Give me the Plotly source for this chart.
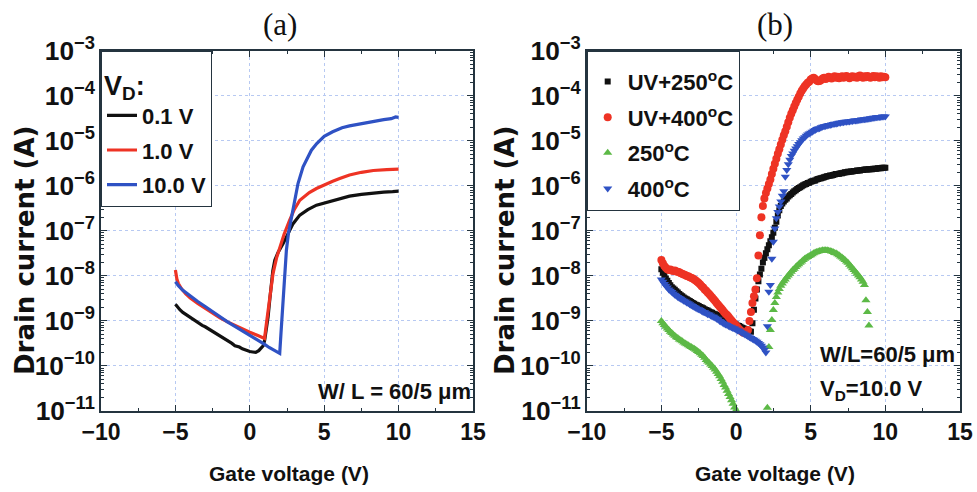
import plotly.graph_objects as go

# ---------------- Panel (a): transfer curves at three drain voltages ----------------
# gate voltage (V) and log10 of drain current (A)
VG_A_01 = [-5.0, -4.9, -4.7, -4.5, -4.2, -4.0, -3.7, -3.5, -3.2, -3.0, -2.7, -2.5, -2.2, -2.0,
           -1.7, -1.5, -1.2, -1.0, -0.7, -0.5, -0.2, 0.0, 0.2, 0.4, 0.6, 0.8, 0.9, 1.0, 1.1,
           1.23, 1.35, 1.45, 1.55, 1.68, 1.9, 2.24, 2.6, 2.91, 3.36, 3.9, 4.48, 5.0, 5.5, 6.04,
           6.7, 7.5, 8.2, 9.0, 9.6, 10.0]
LOG_I_A_01 = [-8.63, -8.68, -8.75, -8.81, -8.88, -8.92, -8.99, -9.04, -9.10, -9.13, -9.19, -9.23,
              -9.28, -9.32, -9.38, -9.44, -9.50, -9.55, -9.58, -9.62, -9.66, -9.68, -9.69, -9.70,
              -9.66, -9.60, -9.55, -9.43, -9.20, -8.91, -8.50, -8.17, -7.88, -7.65, -7.48, -7.28,
              -7.04, -6.84, -6.65, -6.53, -6.43, -6.38, -6.33, -6.28, -6.23, -6.19, -6.16, -6.14,
              -6.13, -6.12]

VG_A_10 = [-5.0, -4.95, -4.9, -4.8, -4.6, -4.3, -4.0, -3.5, -3.0, -2.5, -2.0, -1.5, -1.0, -0.5,
           0.0, 0.5, 0.99, 1.1, 1.2, 1.34, 1.45, 1.56, 1.8, 2.01, 2.3, 2.68, 3.0, 3.36, 4.0,
           4.48, 5.0, 5.57, 6.04, 6.7, 7.5, 8.3, 9.2, 10.0]
LOG_I_A_10 = [-7.87, -7.98, -8.07, -8.17, -8.28, -8.40, -8.49, -8.61, -8.72, -8.83, -8.93, -9.02,
              -9.10, -9.18, -9.25, -9.32, -9.39, -9.10, -8.85, -8.54, -8.22, -7.95, -7.60, -7.36,
              -7.08, -6.76, -6.52, -6.32, -6.15, -6.06, -5.98, -5.90, -5.84, -5.76, -5.70, -5.66,
              -5.64, -5.63]

VG_A_100 = [-5.0, -4.8, -4.5, -4.0, -3.5, -3.0, -2.5, -2.0, -1.5, -1.0, -0.5, 0.0, 0.5, 0.8, 1.0,
            1.3, 1.6, 1.8, 2.01, 2.1, 2.24, 2.35, 2.46, 2.6, 2.8, 3.0, 3.24, 3.58, 4.14, 4.5,
            5.0, 5.57, 6.2, 6.7, 7.3, 7.83, 8.5, 9.0, 9.5, 9.8, 10.0]
LOG_I_A_100 = [-8.13, -8.22, -8.32, -8.45, -8.57, -8.68, -8.80, -8.92, -9.02, -9.12, -9.22, -9.31,
               -9.40, -9.47, -9.52, -9.59, -9.65, -9.69, -9.72, -9.25, -8.54, -7.95, -7.43, -7.05,
               -6.69, -6.30, -5.95, -5.58, -5.21, -5.06, -4.90, -4.80, -4.71, -4.67, -4.63, -4.60,
               -4.56, -4.53, -4.51, -4.47, -4.48]

# ---------------- Panel (b): transfer curves after different treatments ----------------
# gate sweep -5 V ... 10 V in 0.1 V steps; log10 of drain current (A), one row per volt
VG_B = [round(-5.0 + 0.1 * i, 1) for i in range(151)]

LOG_I_UV400 = [
    -7.65, -7.72, -7.78, -7.82, -7.85, -7.87, -7.86, -7.88, -7.89, -7.88,
    -7.90, -7.91, -7.92, -7.94, -7.95, -7.97, -7.98, -8.00, -8.01, -8.03,
    -8.04, -8.06, -8.08, -8.10, -8.13, -8.16, -8.19, -8.23, -8.26, -8.30,
    -8.33, -8.37, -8.40, -8.44, -8.48, -8.52, -8.56, -8.60, -8.64, -8.68,
    -8.72, -8.76, -8.80, -8.84, -8.87, -8.91, -8.95, -8.99, -9.03, -9.07,
    -9.10, -9.14, -9.18, -9.21, -9.24, -9.26, -9.27, -9.28, -9.20, -9.00,
    -8.80, -8.60, -8.45, -8.30, -8.05, -7.55, -7.10, -6.70, -6.45, -6.28,
    -6.16, -6.06, -5.96, -5.86, -5.74, -5.62, -5.51, -5.40, -5.29, -5.19,
    -5.08, -4.98, -4.88, -4.79, -4.69, -4.59, -4.49, -4.40, -4.32, -4.24,
    -4.16, -4.09, -4.02, -3.95, -3.89, -3.84, -3.79, -3.75, -3.71, -3.69,
    -3.64, -3.62, -3.60, -3.63, -3.66, -3.68, -3.67, -3.65, -3.62, -3.60,
    -3.63, -3.61, -3.58, -3.60, -3.62, -3.59, -3.57, -3.60, -3.58, -3.61,
    -3.59, -3.57, -3.60, -3.58, -3.56, -3.59, -3.61, -3.58, -3.57, -3.59,
    -3.58, -3.60, -3.57, -3.55, -3.58, -3.60, -3.57, -3.59, -3.56, -3.58,
    -3.60, -3.58, -3.56, -3.59, -3.57, -3.58, -3.60, -3.57, -3.59, -3.58,
    -3.59]

LOG_I_UV250 = [
    -7.85, -7.93, -8.00, -8.06, -8.11, -8.16, -8.21, -8.25, -8.28, -8.31,
    -8.34, -8.37, -8.40, -8.43, -8.45, -8.48, -8.50, -8.52, -8.54, -8.56,
    -8.58, -8.60, -8.62, -8.64, -8.65, -8.67, -8.69, -8.70, -8.72, -8.74,
    -8.76, -8.77, -8.79, -8.81, -8.82, -8.84, -8.85, -8.87, -8.89, -8.90,
    -8.92, -8.93, -8.95, -8.97, -8.98, -9.00, -9.01, -9.03, -9.05, -9.06,
    -9.08, -9.10, -9.11, -9.13, -9.15, -9.16, -9.18, -9.20, -9.21, -9.23,
    -9.24, -9.05, -8.75, -8.50, -8.30, -8.12, -7.97, -7.84, -7.70, -7.60,
    -7.50, -7.41, -7.32, -7.23, -7.14, -7.04, -6.93, -6.80, -6.66, -6.54,
    -6.45, -6.39, -6.35, -6.31, -6.28, -6.24, -6.21, -6.18, -6.15, -6.12,
    -6.10, -6.07, -6.05, -6.03, -6.01, -5.99, -5.97, -5.96, -5.94, -5.93,
    -5.91, -5.90, -5.89, -5.88, -5.86, -5.85, -5.84, -5.83, -5.82, -5.81,
    -5.80, -5.79, -5.78, -5.77, -5.77, -5.76, -5.75, -5.74, -5.74, -5.73,
    -5.72, -5.72, -5.71, -5.70, -5.70, -5.69, -5.69, -5.68, -5.68, -5.67,
    -5.67, -5.66, -5.66, -5.66, -5.65, -5.65, -5.64, -5.64, -5.64, -5.63,
    -5.63, -5.63, -5.62, -5.62, -5.62, -5.61, -5.61, -5.61, -5.60, -5.60,
    -5.60]

LOG_I_400 = [
    -8.08, -8.13, -8.18, -8.22, -8.26, -8.30, -8.33, -8.36, -8.39, -8.42,
    -8.44, -8.47, -8.49, -8.51, -8.53, -8.55, -8.57, -8.59, -8.61, -8.63,
    -8.65, -8.67, -8.69, -8.71, -8.73, -8.74, -8.76, -8.78, -8.80, -8.81,
    -8.83, -8.85, -8.86, -8.88, -8.90, -8.91, -8.93, -8.95, -8.97, -9.00,
    -9.02, -9.04, -9.06, -9.08, -9.09, -9.11, -9.13, -9.14, -9.16, -9.17,
    -9.19, -9.21, -9.22, -9.24, -9.26, -9.28, -9.30, -9.32, -9.34, -9.36,
    -9.38, -9.40, -9.42, -9.44, -9.46, -9.49, -9.52, -9.55, -9.59, -9.64,
    -9.70, -9.12, -8.35, -8.20, -7.62, -7.24, -6.95, -6.72, -6.58, -6.46,
    -6.35, -6.22, -6.12, -5.80, -5.65, -5.52, -5.42, -5.34, -5.28, -5.22,
    -5.17, -5.12, -5.07, -5.03, -4.99, -4.95, -4.92, -4.89, -4.86, -4.84,
    -4.82, -4.80, -4.78, -4.76, -4.74, -4.73, -4.72, -4.70, -4.69, -4.68,
    -4.67, -4.66, -4.65, -4.65, -4.64, -4.63, -4.62, -4.62, -4.61, -4.60,
    -4.60, -4.59, -4.59, -4.58, -4.58, -4.57, -4.57, -4.56, -4.56, -4.55,
    -4.55, -4.55, -4.54, -4.54, -4.53, -4.53, -4.52, -4.52, -4.51, -4.51,
    -4.50, -4.50, -4.49, -4.49, -4.48, -4.48, -4.47, -4.47, -4.46, -4.46,
    -4.46]

# below 1e-11 A the 250 C device leaves the plotted range (None = not drawn)
LOG_I_250 = [
    -9.00, -9.05, -9.09, -9.13, -9.17, -9.20, -9.24, -9.27, -9.30, -9.33,
    -9.36, -9.38, -9.41, -9.43, -9.45, -9.48, -9.50, -9.52, -9.54, -9.56,
    -9.58, -9.60, -9.62, -9.64, -9.67, -9.69, -9.72, -9.75, -9.78, -9.82,
    -9.87, -9.90, -9.93, -9.97, -10.00, -10.04, -10.08, -10.13, -10.18, -10.23,
    -10.29, -10.35, -10.42, -10.48, -10.55, -10.62, -10.69, -10.76, -10.84, -10.92,
    -10.98, None, None, None, None, None, None, None, None, None,
    None, None, None, None, None, None, None, None, None, None,
    None, -10.93, -9.58, -9.20, -8.98, -8.76, -8.60, -8.47, -8.37, -8.29,
    -8.22, -8.17, -8.12, -8.08, -8.03, -7.99, -7.95, -7.91, -7.87, -7.84,
    -7.80, -7.77, -7.74, -7.71, -7.68, -7.65, -7.62, -7.60, -7.58, -7.56,
    -7.54, -7.52, -7.50, -7.48, -7.47, -7.46, -7.45, -7.44, -7.43, -7.43,
    -7.43, -7.43, -7.44, -7.45, -7.46, -7.47, -7.49, -7.50, -7.52, -7.54,
    -7.57, -7.59, -7.62, -7.65, -7.68, -7.71, -7.75, -7.79, -7.83, -7.87,
    -7.91, -7.95, -7.99, -8.03, -8.08, -8.13, -8.20, -8.54, -8.80, -9.10,
    None, None, None, None, None, None, None, None, None, None,
    None]

LEGEND_A = ["0.1 V", "1.0 V", "10.0 V"]
LEGEND_B = ["UV+250<sup>o</sup>C", "UV+400<sup>o</sup>C", "250<sup>o</sup>C", "400<sup>o</sup>C"]


def to_amp(logs):
    return [None if v is None else 10 ** v for v in logs]


SANS = "Liberation Sans"
INK = "#111111"
BLACK, RED, GREEN, BLUE = "#111111", "#ee3324", "#5cb946", "#2f52c4"
FRAME = "#24343f"
GRID = "#b7c9f2"

fig = go.Figure()

# panel (a) lines
for name, xs, ys, col in [
    (LEGEND_A[0], VG_A_01, LOG_I_A_01, BLACK),
    (LEGEND_A[1], VG_A_10, LOG_I_A_10, RED),
    (LEGEND_A[2], VG_A_100, LOG_I_A_100, BLUE),
]:
    fig.add_trace(go.Scatter(
        x=xs, y=to_amp(ys), mode="lines", name=name, legendgroup=name,
        line=dict(color=col, width=3.2), xaxis="x", yaxis="y", legend="legend",
    ))

# panel (b) markers
for name, ys, col, sym, size in [
    (LEGEND_B[0], LOG_I_UV250, BLACK, "square", 6),
    (LEGEND_B[1], LOG_I_UV400, RED, "circle", 8),
    (LEGEND_B[2], LOG_I_250, GREEN, "triangle-up", 8),
    (LEGEND_B[3], LOG_I_400, BLUE, "triangle-down", 8),
]:
    fig.add_trace(go.Scatter(
        x=VG_B, y=to_amp(ys), mode="markers", name=name, legendgroup=name,
        marker=dict(color=col, symbol=sym, size=size, line=dict(width=0)),
        xaxis="x2", yaxis="y2", legend="legend2",
    ))

Y_TOP, Y_BOT = 1 - 50.7 / 492, 1 - 411 / 492

xcommon = dict(
    range=[-10, 15], tickmode="linear", tick0=-10, dtick=5,
    ticks="inside", ticklen=6, tickwidth=1.3, tickcolor=FRAME,
    minor=dict(ticks="inside", ticklen=3, dtick=2.5, tickcolor=FRAME, showgrid=False),
    showgrid=True, gridcolor=GRID, griddash="dot", gridwidth=1,
    showline=True, linecolor=FRAME, linewidth=1.6, mirror="allticks",
    zeroline=False, automargin=False,
    tickfont=dict(family=SANS, size=23, color=INK, weight="bold"),
)
ycommon = dict(
    type="log", range=[-11, -3], dtick=1, exponentformat="power",
    ticks="inside", ticklen=6, tickwidth=1.3, tickcolor=FRAME,
    minor=dict(ticks="inside", ticklen=3, tickcolor=FRAME, showgrid=False),
    showgrid=True, gridcolor=GRID, griddash="dot", gridwidth=1,
    showline=True, linecolor=FRAME, linewidth=1.6, mirror="allticks",
    zeroline=False, automargin=False,
    tickfont=dict(family=SANS, size=21, color=INK, weight="bold"),
)

legcommon = dict(
    xanchor="left", yanchor="top", y=Y_TOP,
    bgcolor="white", bordercolor=FRAME, borderwidth=1,
    font=dict(family=SANS, size=22, color=INK, weight="bold"),
    itemwidth=30,
)

fig.update_layout(
    width=977, height=492,
    margin=dict(l=0, r=0, t=0, b=0, autoexpand=False),
    paper_bgcolor="white", plot_bgcolor="white",
    xaxis=dict(domain=[101 / 977, 473 / 977], anchor="y", **xcommon),
    yaxis=dict(domain=[Y_BOT, Y_TOP], anchor="x", **ycommon),
    xaxis2=dict(domain=[586.7 / 977, 960 / 977], anchor="y2", **xcommon),
    yaxis2=dict(domain=[Y_BOT, Y_TOP], anchor="x2", **ycommon),
    legend=dict(
        x=101 / 977, tracegroupgap=3,
        title=dict(text="<span style='font-size:27px'>V<sub>D</sub>:</span>", side="top",
                   font=dict(family=SANS, size=33, color=INK, weight="bold")),
        **legcommon),
    legend2=dict(
        x=586.7 / 977, tracegroupgap=4,
        title=dict(text=" ", side="top", font=dict(family=SANS, size=7, color=INK)),
        **legcommon),
    showlegend=True,
)

ann_font = dict(family=SANS, size=22, color=INK, weight="bold")
title_font = dict(family=SANS, size=21, color=INK, weight="bold")
ytitle_font = dict(family="DejaVu Sans", size=26, color=INK, weight="bold")
serif_font = dict(family="Liberation Serif", size=31, color=INK)
annotations = [
    dict(text="(a)", x=280 / 977, y=1 - 25 / 492, font=serif_font),
    dict(text="(b)", x=775 / 977, y=1 - 25 / 492, font=serif_font),
    dict(text="Gate voltage (V)", x=289 / 977, y=1 - 473 / 492, font=title_font),
    dict(text="Gate voltage (V)", x=775 / 977, y=1 - 473 / 492, font=title_font),
    dict(text="Drain current (A)", x=25 / 977, y=1 - 250 / 492, textangle=-90, font=ytitle_font),
    dict(text="Drain current (A)", x=505 / 977, y=1 - 250 / 492, textangle=-90, font=ytitle_font),
    dict(text="W/ L = 60/5 \u03bcm", x=473 / 977, y=1 - 391 / 492, xanchor="right", font=ann_font),
    dict(text="W/L=60/5 \u03bcm", x=818 / 977, y=1 - 354 / 492, xanchor="left", font=ann_font),
    dict(text="V<sub>D</sub>=10.0 V", x=818 / 977, y=1 - 390 / 492, xanchor="left", font=ann_font),
]
for a in annotations:
    a.setdefault("xanchor", "center")
    fig.add_annotation(xref="paper", yref="paper", yanchor="middle", showarrow=False, **a)

fig.write_html("out.html")
